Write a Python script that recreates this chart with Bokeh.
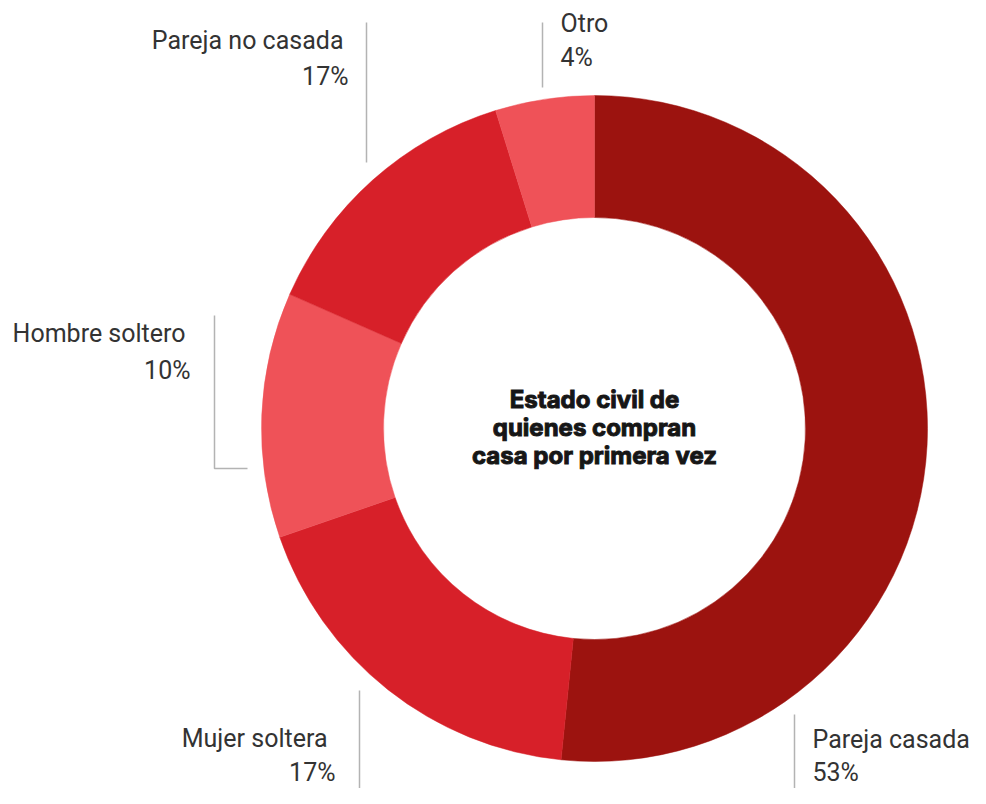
import math
from bokeh.plotting import figure
from bokeh.models import Range1d, ColumnDataSource
from bokeh.core.properties import value
from bokeh.embed import file_html
from bokeh.resources import INLINE

# ---- data ----
categories = ["Pareja casada", "Mujer soltera", "Hombre soltero", "Pareja no casada", "Otro"]
shares = [51.6, 18.1, 11.9, 13.6, 4.8]          # slice sizes as drawn
pct_labels = ["53%", "17%", "10%", "17%", "4%"]  # printed labels
colors = ["#9c130f", "#d72029", "#ef5258", "#d72029", "#ef5258"]
center_title = ["Estado civil de", "quienes compran", "casa por primera vez"]

# ---- layout (picture pixel coords, data y = FH - sy) ----
FW, FH = 970, 788
def Y(sy):
    return FH - sy

cx, cy = 594, Y(428)
r_out, r_in = 333, 211
LABEL_SHIFT = 7   # renderer places the text baseline this much lower
TITLE_SHIFT = 6

p = figure(width=FW, height=FH, output_backend="svg", toolbar_location=None,
           x_range=Range1d(0, FW), y_range=Range1d(0, FH), min_border=0)
p.axis.visible = False
p.grid.visible = False
p.outline_line_color = None
p.background_fill_color = "white"

total = sum(shares)
starts, ends = [], []
acc = 0.0
for s in shares:
    starts.append(math.pi / 2 - 2 * math.pi * acc / total)
    acc += s
    ends.append(math.pi / 2 - 2 * math.pi * acc / total)

src = ColumnDataSource(dict(x=[cx] * len(shares), y=[cy] * len(shares),
                            start=starts, end=ends, color=colors, cat=categories))
p.annular_wedge(x="x", y="y", inner_radius=r_in, outer_radius=r_out,
                start_angle="start", end_angle="end", direction="clock",
                fill_color="color", line_color="color", line_width=0.5, source=src)

# labels: (title_x, pct_x, align, title_baseline, pct_baseline, leader polyline)
label_layout = [
    (812, 812, "left", 746, 779, [(794, 714), (794, 790)]),
    (327, 335, "right", 745, 779, [(359, 690), (359, 790)]),
    (185, 190, "right", 340, 377, [(214, 315), (214, 468), (247, 468)]),
    (343, 348, "right", 47, 83, [(366, 22), (366, 162)]),
    (560, 560, "left", 30, 64, [(542, 22), (542, 87)]),
]
label_font = value("Roboto")
for cat, pct, (tx, px, al, tb, pb, leader) in zip(categories, pct_labels, label_layout):
    p.line(x=[a for a, b in leader], y=[Y(b) for a, b in leader],
           line_color="#b3b3b3", line_width=1.5)
    p.text(x=[tx], y=[Y(tb - LABEL_SHIFT)], text=[cat], text_align=al,
           text_baseline="alphabetic", text_font=label_font,
           text_font_size="25px", text_color="#333333")
    p.text(x=[px], y=[Y(pb - LABEL_SHIFT)], text=[pct], text_align=al,
           text_baseline="alphabetic", text_font=label_font,
           text_font_size="25px", text_color="#333333")

title_baselines = [405, 433, 461]
p.text(x=[cx] * 3, y=[Y(b - TITLE_SHIFT) for b in title_baselines], text=center_title,
       text_align="center", text_baseline="alphabetic", text_font=value("Inter"),
       text_font_style="bold", text_font_size="24px", text_color="#161616",
       text_outline_color="#161616")

open("out.html", "w").write(file_html(p, INLINE))
